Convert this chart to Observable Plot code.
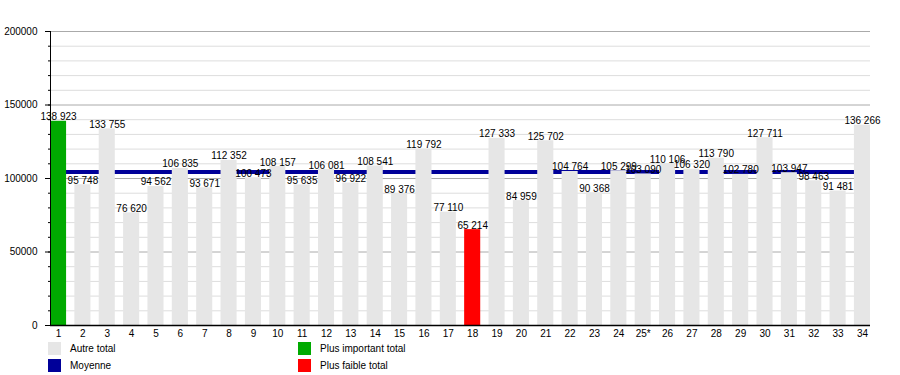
<!DOCTYPE html>
<html>
<head>
<meta charset="utf-8">
<script src="https://cdn.jsdelivr.net/npm/d3@7"></script>
<script src="https://cdn.jsdelivr.net/npm/@observablehq/plot@0.6"></script>
<style>
  body { margin: 0; background: #fff; font-family: "Liberation Sans", Arial, sans-serif; }
  #wrap { position: relative; width: 900px; height: 375px; }
  .leg { position: absolute; font-size: 10px; color: #000; display: flex; align-items: center; }
  .sw { width: 13px; height: 13px; margin-right: 9px; }
</style>
</head>
<body>
<div id="wrap"></div>
<script>
const categories = ["1","2","3","4","5","6","7","8","9","10","11","12","13","14","15","16","17","18","19","20","21","22","23","24","25*","26","27","28","29","30","31","32","33","34"];
const totals = [138923,95748,133755,76620,94562,106835,93671,112352,100473,108157,95635,106081,96922,108541,89376,119792,77110,65214,127333,84959,125702,104764,90368,105299,103090,110106,106320,113790,102780,127711,103947,98463,91481,136266];
const majorTicks = [0, 50000, 100000, 150000, 200000];
const minorTicks = d3.range(0, 200001, 10000);

const data = categories.map((c, i) => ({cat: c, value: totals[i]}));
const maxV = d3.max(totals), minV = d3.min(totals);
const mean = d3.mean(totals);
const fmt = v => d3.format(",")(v).replace(/,/g, " ");
const colorOf = v => v === maxV ? "#00aa00" : v === minV ? "#ff0000" : "#e6e6e6";

const chart = Plot.plot({
  width: 900,
  height: 342,
  marginLeft: 50,
  marginRight: 30,
  marginTop: 31,
  marginBottom: 17,
  style: {fontFamily: "Liberation Sans, Arial, sans-serif", fontSize: "10px", background: "#fff"},
  x: {type: "band", domain: categories, paddingInner: 0.34, paddingOuter: 0, round: false, label: null},
  y: {domain: [0, 200000], label: null},
  marks: [
    Plot.ruleY(minorTicks.filter(d => d % 50000 !== 0), {stroke: "#dddddd", strokeWidth: 1}),
    Plot.ruleY(majorTicks, {stroke: "#aaaaaa", strokeWidth: 1}),
    Plot.ruleY([mean], {stroke: "#000099", strokeWidth: 4}),
    Plot.barY(data, {x: "cat", y: "value", fill: d => colorOf(d.value)}),
    Plot.text(data, {x: "cat", y: "value", text: d => fmt(d.value), lineAnchor: "bottom", dy: -1, fill: "#000", fontSize: 10}),
    Plot.axisY({ticks: minorTicks, tickSize: 2, tickFormat: () => "", label: null}),
    Plot.axisY({ticks: majorTicks, tickSize: 5, tickPadding: 8, tickFormat: d => String(d), label: null, fontSize: 10}),
    Plot.axisX({tickSize: 0, tickPadding: 4, label: null, fontSize: 10}),
    Plot.ruleY([0], {stroke: "#000", strokeWidth: 1.5}),
    Plot.frame({anchor: "left", stroke: "#000"})
  ]
});
const wrap = document.getElementById("wrap");
wrap.appendChild(chart);

const legend = [
  {label: "Autre total", color: "#e6e6e6", x: 48, y: 342},
  {label: "Moyenne", color: "#000099", x: 48, y: 359},
  {label: "Plus important total", color: "#00aa00", x: 298, y: 342},
  {label: "Plus faible total", color: "#ff0000", x: 298, y: 359}
];
for (const l of legend) {
  const d = document.createElement("div");
  d.className = "leg";
  d.style.left = l.x + "px";
  d.style.top = l.y + "px";
  d.innerHTML = `<div class="sw" style="background:${l.color}"></div><span>${l.label}</span>`;
  wrap.appendChild(d);
}
</script>
</body>
</html>
